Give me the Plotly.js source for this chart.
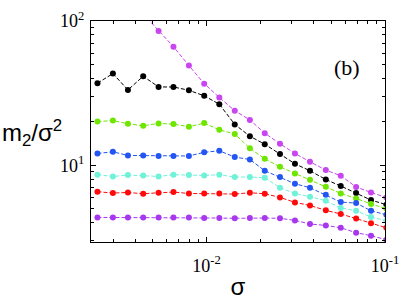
<!DOCTYPE html>
<html>
<head>
<meta charset="utf-8">
<script src="https://cdn.plot.ly/plotly-3.0.1.min.js"></script>
<style>html,body{margin:0;padding:0;background:#fff;}#chart{width:407px;height:301px;}</style>
</head>
<body>
<div id="chart"></div>
<script>
// sigma values (shared by all series)
var sigma = [0.00245, 0.00299, 0.00363, 0.00442, 0.00539, 0.00653, 0.00797, 0.00971, 0.0118, 0.0144,
             0.0175, 0.0212, 0.0258, 0.0313, 0.0380, 0.0466, 0.0565, 0.0689, 0.0835, 0.1017];

// m2/sigma^2 for each series
var seriesMagenta = [null, null, null, 112, 85.3, 66.4, 49.1, 36.8, 29.5, 23.9,
                     20.6, 16.7, 14.1, 12.07, 10.57, 9.26, 8.46, 7.07, 6.48, 5.98];
var seriesBlack   = [37.1, 43.2, 33.3, 41.4, 34.9, 34.9, 33.1, 30.3, 26.5, 19.2,
                     15.9, 14.0, 11.96, 10.24, 9.16, 7.97, 7.18, 6.42, 5.74, 5.33];
var seriesGreen   = [20.1, 20.4, 19.4, 18.8, 19.5, 19.3, 18.5, 19.6, 17.6, 16.5,
                     13.1, 11.1, 9.76, 8.78, 7.94, 7.10, 6.38, 5.89, 5.39, 5.0];
var seriesBlue    = [12.07, 12.4, 11.7, 11.7, 11.6, 11.6, 11.6, 12.3, 12.6, 11.4,
                     10.97, 9.16, 8.29, 7.45, 6.99, 6.25, 5.56, 5.47, 4.84, 4.54];
var seriesCyan    = [8.60, 8.37, 8.55, 8.50, 8.37, 8.60, 8.55, 8.50, 8.60, 8.29,
                     8.29, 8.19, 6.99, 6.38, 6.05, 5.68, 5.06, 4.84, 4.38, 4.13];
var seriesRed     = [6.56, 6.42, 6.48, 6.35, 6.45, 6.52, 6.38, 6.38, 6.38, 6.32,
                     6.45, 6.35, 5.99, 5.53, 5.27, 4.87, 4.60, 4.28, 3.96, 3.69];
var seriesPurple  = [4.35, 4.35, 4.35, 4.35, 4.35, 4.35, 4.35, 4.31, 4.31, 4.29,
                     4.31, 4.31, 4.29, 4.15, 3.92, 3.83, 3.69, 3.41, 3.25, 3.05];

var xTickVals = [0.01, 0.1];
var xTickText = ['10<sup>-2</sup>', '10<sup>-1</sup>'];
var yTickVals = [10, 100];
var yTickText = ['10<sup>1</sup>', '10<sup>2</sup>'];

var seriesList = [
  {y: seriesMagenta, color: '#c845f0'},
  {y: seriesBlack,   color: '#000000'},
  {y: seriesGreen,   color: '#6ee600'},
  {y: seriesBlue,    color: '#2255f2'},
  {y: seriesCyan,    color: '#6ff2d8'},
  {y: seriesRed,     color: '#ff0a0a'},
  {y: seriesPurple,  color: '#a838ee'}
];

var traces = seriesList.map(function (s) {
  return {
    x: sigma, y: s.y, type: 'scatter', mode: 'lines+markers',
    line: {color: s.color, width: 1, dash: '4px,2px'},
    marker: {color: s.color, size: 6},
    showlegend: false, hoverinfo: 'x+y'
  };
});

var minorX = [0.003,0.004,0.005,0.006,0.007,0.008,0.009,0.02,0.03,0.04,0.05,0.06,0.07,0.08,0.09];
var minorY = [3,4,5,6,7,8,9,20,30,40,50,60,70,80,90];

var serif = "'Liberation Serif', 'DejaVu Serif', serif";
var sans = "'Liberation Sans', Arial, sans-serif";
var tickFont = {family: serif, size: 18, color: '#000'};

var layout = {
  width: 407, height: 301,
  margin: {l: 91, r: 22, t: 21, b: 59, pad: 0},
  paper_bgcolor: '#fff', plot_bgcolor: '#fff',
  xaxis: {
    type: 'log', range: [-2.647, -1],
    tickmode: 'array', tickvals: xTickVals, ticktext: xTickText,
    ticks: 'inside', ticklen: 5, tickcolor: '#000', tickwidth: 1,
    minor: {tickmode: 'array', tickvals: minorX, ticks: 'inside', ticklen: 3, tickcolor: '#000', showgrid: false},
    showline: true, linecolor: '#000', linewidth: 1, mirror: 'allticks',
    showgrid: false, zeroline: false,
    tickfont: tickFont, ticklabelstandoff: 7,
    title: {text: 'σ', font: {family: sans, size: 24, color: '#000'}, standoff: 3}
  },
  yaxis: {
    type: 'log', range: [0.4683, 2],
    tickmode: 'array', tickvals: yTickVals, ticktext: yTickText,
    ticks: 'inside', ticklen: 5, tickcolor: '#000', tickwidth: 1,
    minor: {tickmode: 'array', tickvals: minorY, ticks: 'inside', ticklen: 3, tickcolor: '#000', showgrid: false},
    showline: true, linecolor: '#000', linewidth: 1, mirror: 'allticks',
    showgrid: false, zeroline: false,
    tickfont: tickFont, ticklabelstandoff: 2
  },
  annotations: [
    {xref: 'paper', yref: 'paper', x: -0.2, y: 0.493, xanchor: 'center', yanchor: 'middle',
     text: 'm<sub>2</sub>/σ<sup>2</sup>', showarrow: false,
     font: {family: sans, size: 24, color: '#000'}},
    {xref: 'paper', yref: 'paper', x: 0.870, y: 0.790, xanchor: 'center', yanchor: 'middle',
     text: '(b)', showarrow: false,
     font: {family: serif, size: 22, color: '#000'}}
  ]
};

Plotly.newPlot('chart', traces, layout, {displayModeBar: false, staticPlot: true});
</script>
</body>
</html>
